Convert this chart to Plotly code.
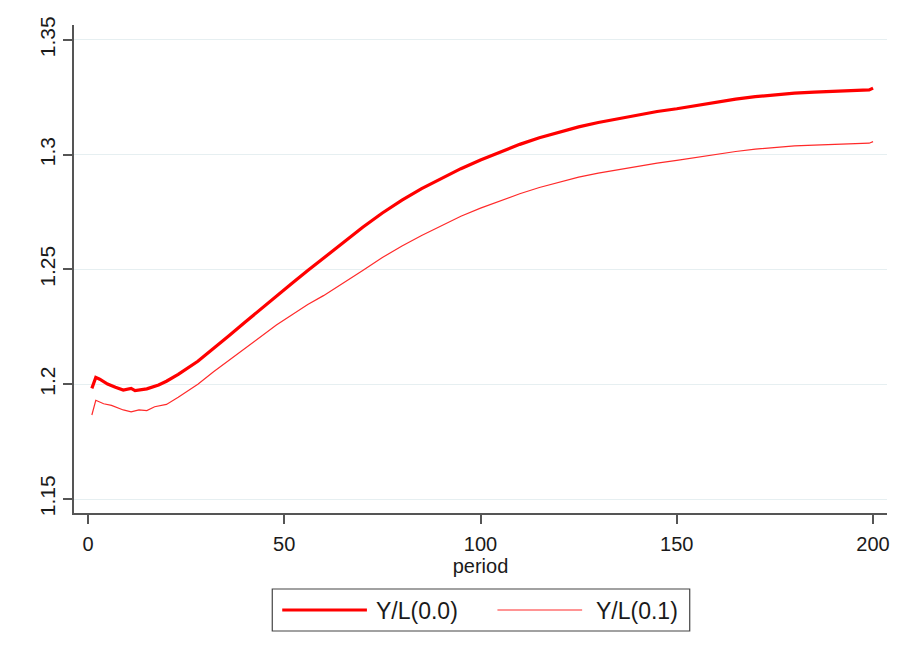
import plotly.graph_objects as go

# ---- data ----
period_a = [1, 2, 3, 5, 7, 9, 11, 12, 15, 18, 20, 23, 28, 32, 36, 40, 44, 48, 52, 56, 60, 65, 70,
            75, 80, 85, 90, 95, 100, 105, 110, 115, 120, 125, 130, 135, 140, 145, 150, 155, 160,
            165, 170, 175, 180, 185, 190, 195, 199, 200]
yl_00 = [1.1982, 1.2030, 1.2022, 1.2001, 1.1987, 1.1975, 1.1982, 1.1972, 1.1980, 1.1997, 1.2013,
         1.2043, 1.2100, 1.2155, 1.2212, 1.2270, 1.2328, 1.2386, 1.2440, 1.2495, 1.2550, 1.2617,
         1.2684, 1.2746, 1.2802, 1.2852, 1.2897, 1.2939, 1.2977, 1.3012, 1.3045, 1.3074, 1.3099,
         1.3121, 1.3140, 1.3157, 1.3174, 1.3188, 1.3200, 1.3215, 1.3229, 1.3242, 1.3253, 1.3262,
         1.3268, 1.3273, 1.3277, 1.3280, 1.3282, 1.3290]

period_b = [1, 2, 4, 6, 9, 11, 13, 15, 17, 20, 23, 28, 32, 36, 40, 44, 48, 52, 56, 60, 65, 70,
            75, 80, 85, 90, 95, 100, 105, 110, 115, 120, 125, 130, 135, 140, 145, 150, 155, 160,
            165, 170, 175, 180, 185, 190, 195, 199, 200]
yl_01 = [1.1866, 1.1930, 1.1915, 1.1908, 1.1888, 1.1880, 1.1888, 1.1885, 1.1902, 1.1912, 1.1943,
         1.2000, 1.2054, 1.2105, 1.2157, 1.2208, 1.2258, 1.2303, 1.2347, 1.2386, 1.2440, 1.2496,
         1.2552, 1.2602, 1.2648, 1.2691, 1.2732, 1.2767, 1.2800, 1.2830, 1.2857, 1.2881, 1.2902,
         1.2920, 1.2935, 1.2950, 1.2963, 1.2975, 1.2989, 1.3002, 1.3014, 1.3024, 1.3032, 1.3038,
         1.3042, 1.3046, 1.3048, 1.3050, 1.3057]

series_names = ["Y/L(0.0)", "Y/L(0.1)"]
x_ticks = [0, 50, 100, 150, 200]
y_ticks = [1.15, 1.2, 1.25, 1.3, 1.35]
y_tick_labels = ["1.15", "1.2", "1.25", "1.3", "1.35"]
x_title = "period"

# ---- figure ----
W, H = 902, 657
L, R, T, B = 74, 12, 25, 144
PW, PH = W - L - R, H - T - B

FONT = "Liberation Sans, Arial, sans-serif"
TXT = "#1a1a1a"
AXC = "#555555"
RED = "#ff0000"
RED_THIN = "#ff2a2a"

fig = go.Figure()
fig.add_trace(go.Scatter(x=period_a, y=yl_00, mode="lines", name=series_names[0],
                         line=dict(color=RED, width=3.2), showlegend=False))
fig.add_trace(go.Scatter(x=period_b, y=yl_01, mode="lines", name=series_names[1],
                         line=dict(color=RED_THIN, width=1.2), showlegend=False))


def px(xp):
    return (xp - L) / PW


def py(yp):
    return (T + PH - yp) / PH


shapes = []
annotations = []
# legend box
shapes.append(dict(type="rect", xref="paper", yref="paper",
                   x0=px(273), x1=px(692), y0=py(631), y1=py(589),
                   line=dict(color="#444444", width=1.2), fillcolor="white"))
legend_items = [(283, 368, 375, RED, 3.2), (499, 584, 596, RED_THIN, 1.2)]
for (lx0, lx1, tx, col, w), name in zip(legend_items, series_names):
    shapes.append(dict(type="line", xref="paper", yref="paper",
                       x0=px(lx0), x1=px(lx1), y0=py(610), y1=py(610),
                       line=dict(color=col, width=w)))
    annotations.append(dict(xref="paper", yref="paper", x=px(tx), y=py(611),
                            xanchor="left", yanchor="middle", showarrow=False,
                            text=name, font=dict(family=FONT, size=23, color=TXT)))

fig.update_layout(
    width=W, height=H,
    margin=dict(l=L, r=R, t=T, b=B),
    paper_bgcolor="white", plot_bgcolor="white",
    font=dict(family=FONT, size=20, color=TXT),
    shapes=shapes, annotations=annotations,
    showlegend=False,
)
fig.update_xaxes(
    range=[-3.55, 203.55], tickvals=x_ticks, ticks="outside", ticklen=9, tickwidth=1.5,
    tickcolor=AXC, showline=True, linecolor=AXC, linewidth=1.5, showgrid=False,
    zeroline=False, tickfont=dict(family=FONT, size=20, color=TXT), ticklabelstandoff=3,
    title=dict(text=x_title, font=dict(family=FONT, size=20, color=TXT), standoff=3),
)
fig.update_yaxes(
    range=[1.1439, 1.3565], tickvals=y_ticks, ticktext=y_tick_labels, tickangle=-90,
    ticks="outside", ticklen=9, tickwidth=1.5, tickcolor=AXC, showline=True,
    linecolor=AXC, linewidth=1.5, showgrid=True, gridcolor="#e6eff1", gridwidth=1.2,
    zeroline=False, tickfont=dict(family=FONT, size=21, color=TXT),
)

fig.write_html("out.html")
